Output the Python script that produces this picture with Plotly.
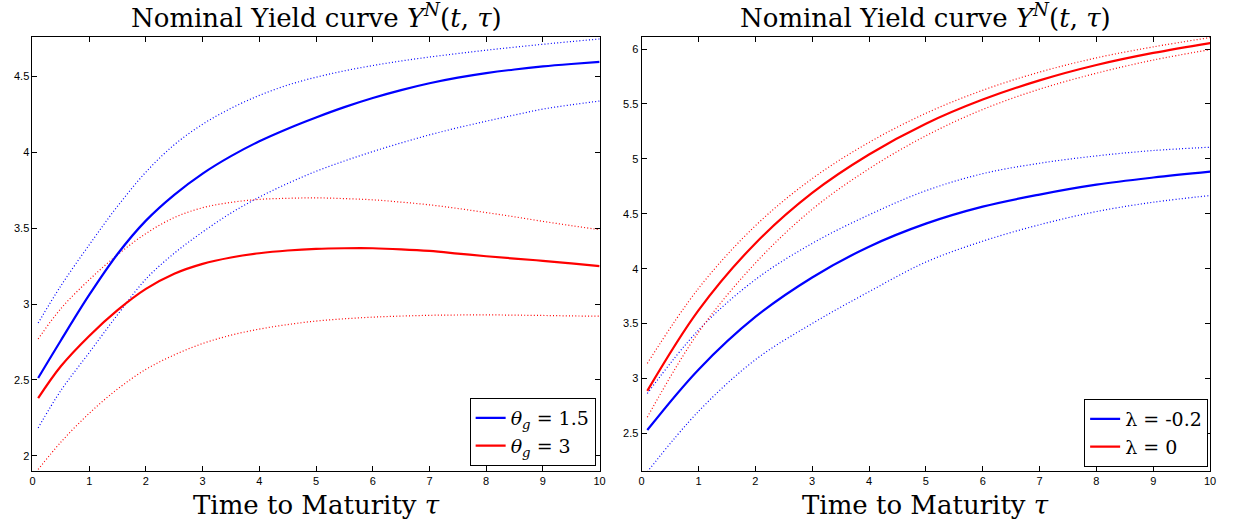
import plotly.graph_objects as go

# ---------------- data ----------------
tau_left = [0.1, 0.5, 1, 1.5, 2, 2.5, 3, 3.5, 4, 4.5, 5, 5.5, 6, 6.5, 7, 7.5, 8, 8.5, 9, 9.5, 10]
tau_right = [0.1, 1, 2, 3, 4, 5, 6, 7, 8, 9, 10]
x_ticks = [0, 1, 2, 3, 4, 5, 6, 7, 8, 9, 10]

# Left panel: theta_g = 1.5 (blue) and theta_g = 3 (red)
theta15_mid = [2.513, 2.76, 3.06, 3.33, 3.55, 3.72, 3.86, 3.975, 4.073, 4.156, 4.23,
               4.298, 4.358, 4.41, 4.455, 4.492, 4.522, 4.546, 4.566, 4.582, 4.596]
theta15_up = [2.875, 3.12, 3.39, 3.645, 3.87, 4.05, 4.185, 4.29, 4.375, 4.443, 4.495,
              4.537, 4.572, 4.602, 4.628, 4.651, 4.673, 4.693, 4.712, 4.73, 4.747]
theta15_lo = [2.184, 2.43, 2.68, 2.93, 3.165, 3.335, 3.475, 3.60, 3.705, 3.795, 3.875,
              3.943, 4.005, 4.062, 4.115, 4.162, 4.205, 4.246, 4.285, 4.313, 4.338]

theta3_mid = [2.38, 2.59, 2.79, 2.96, 3.10, 3.20, 3.265, 3.307, 3.335, 3.353, 3.364,
              3.368, 3.368, 3.361, 3.35, 3.333, 3.315, 3.30, 3.285, 3.268, 3.25]
theta3_up = [2.77, 2.97, 3.16, 3.325, 3.465, 3.57, 3.635, 3.67, 3.69, 3.697, 3.70,
             3.695, 3.687, 3.672, 3.654, 3.63, 3.603, 3.575, 3.545, 3.517, 3.49]
theta3_lo = [1.91, 2.09, 2.28, 2.44, 2.57, 2.665, 2.74, 2.795, 2.835, 2.865, 2.888,
             2.903, 2.914, 2.921, 2.926, 2.928, 2.929, 2.927, 2.925, 2.922, 2.92]

# Right panel: lambda = -0.2 (blue) and lambda = 0 (red)
lamm02_mid = [2.53, 3.08, 3.56, 3.92, 4.20, 4.41, 4.565, 4.675, 4.765, 4.83, 4.884]
lamm02_up = [2.863, 3.44, 3.90, 4.23, 4.49, 4.71, 4.865, 4.96, 5.027, 5.076, 5.106]
lamm02_lo = [2.149, 2.70, 3.17, 3.50, 3.79, 4.06, 4.25, 4.40, 4.52, 4.605, 4.666]

lam0_mid = [2.887, 3.62, 4.23, 4.69, 5.04, 5.32, 5.54, 5.715, 5.855, 5.965, 6.055]
lam0_up = [3.137, 3.82, 4.39, 4.82, 5.15, 5.415, 5.625, 5.79, 5.92, 6.02, 6.105]
lam0_lo = [2.647, 3.42, 4.05, 4.54, 4.91, 5.21, 5.45, 5.635, 5.78, 5.90, 5.995]

left_yticks = [2, 2.5, 3, 3.5, 4, 4.5]
right_yticks = [2.5, 3, 3.5, 4, 4.5, 5, 5.5, 6]

BLUE = "rgb(0,0,255)"
RED = "rgb(255,0,0)"
DOT = dict(width=1.2, dash="1px,2.2px")

fig = go.Figure()


def add_band(xs, xa, ya, up, lo, color):
    for ys in (up, lo):
        fig.add_trace(go.Scatter(x=xs, y=ys, mode="lines", xaxis=xa, yaxis=ya,
                                 line=dict(color=color, shape="spline", smoothing=1.0, **DOT),
                                 showlegend=False, hoverinfo="skip"))


def add_mid(xs, xa, ya, ys, color, name, legend):
    fig.add_trace(go.Scatter(x=xs, y=ys, mode="lines", xaxis=xa, yaxis=ya,
                             line=dict(color=color, width=2.2, shape="spline", smoothing=1.0),
                             name=name, legend=legend))


add_band(tau_left, "x", "y", theta15_up, theta15_lo, BLUE)
add_band(tau_left, "x", "y", theta3_up, theta3_lo, RED)
add_mid(tau_left, "x", "y", theta15_mid, BLUE, "<i>θ</i><sub><i>g</i></sub> = 1.5", "legend")
add_mid(tau_left, "x", "y", theta3_mid, RED, "<i>θ</i><sub><i>g</i></sub> = 3", "legend")

add_band(tau_right, "x2", "y2", lamm02_up, lamm02_lo, BLUE)
add_band(tau_right, "x2", "y2", lam0_up, lam0_lo, RED)
add_mid(tau_right, "x2", "y2", lamm02_mid, BLUE, "λ = -0.2", "legend2")
add_mid(tau_right, "x2", "y2", lam0_mid, RED, "λ = 0", "legend2")

W, H = 1233, 525
L1, R1 = 29.7, 601.0
L2, R2 = 643.3, 1216.0
TOP, BOT = 37.0, 471.0

SERIF = "DejaVu Serif, Liberation Serif, serif"
tickfont = dict(family="Liberation Sans, Arial, sans-serif", size=11, color="black")
axis_common = dict(showline=True, linecolor="black", linewidth=1, mirror="allticks",
                   ticks="inside", ticklen=5, tickcolor="black", tickwidth=1,
                   showgrid=False, zeroline=False, tickfont=tickfont)

legend_common = dict(bgcolor="white", bordercolor="black", borderwidth=1,
                     font=dict(family=SERIF, size=19, color="black"),
                     tracegroupgap=0, itemwidth=30)

fig.update_layout(
    width=W, height=H,
    margin=dict(l=0, r=0, t=0, b=0),
    paper_bgcolor="white", plot_bgcolor="white",
    showlegend=True,
    xaxis=dict(domain=[L1 / W, R1 / W], range=[0, 10], tickvals=x_ticks, anchor="y", **axis_common),
    yaxis=dict(domain=[1 - BOT / H, 1 - TOP / H], range=[1.9, 4.76], tickvals=left_yticks,
               anchor="x", **axis_common),
    xaxis2=dict(domain=[L2 / W, R2 / W], range=[0, 10], tickvals=x_ticks, anchor="y2", **axis_common),
    yaxis2=dict(domain=[1 - BOT / H, 1 - TOP / H], range=[2.157, 6.11], tickvals=right_yticks,
                anchor="x2", **axis_common),
    legend=dict(x=597 / W, xanchor="right", y=1 - 466 / H, yanchor="bottom", **legend_common),
    legend2=dict(x=1214 / W, xanchor="right", y=1 - 467 / H, yanchor="bottom", **legend_common),
)

title_font = dict(family=SERIF, size=26, color="black")
title_text = "Nominal Yield curve <i>Y</i><sup><i>N</i></sup>(<i>t</i>, <i>τ</i>)"
xlabel_text = "Time to Maturity <i>τ</i>"
for (l, r) in ((L1, R1), (L2, R2)):
    cx = (l + r) / 2 / W
    fig.add_annotation(x=cx, y=1 - 16 / H, xref="paper", yref="paper", text=title_text,
                       showarrow=False, font=title_font, xanchor="center", yanchor="middle")
    fig.add_annotation(x=cx, y=1 - 505 / H, xref="paper", yref="paper", text=xlabel_text,
                       showarrow=False, font=title_font, xanchor="center", yanchor="middle")

fig.write_html("out.html")
